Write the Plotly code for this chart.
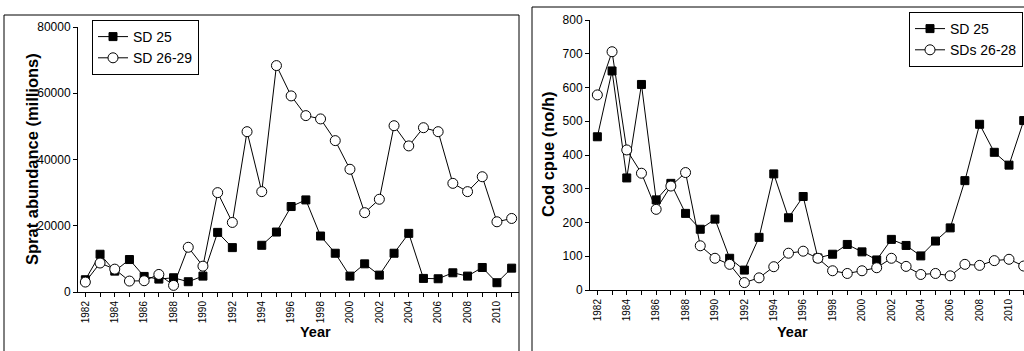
import plotly.graph_objects as go

years = list(range(1982, 2012))

sprat_sd25 = [3700, 11400, 6300, 9800, 4700, 3900, 4300, 3100, 4800, 18000,
              13400, None, 14100, 18100, 25800, 27800, 16900, 11700, 4800, 8500,
              5100, 11700, 17700, 4100, 4000, 5800, 4800, 7400, 2800, 7200]
sprat_sd2629 = [3000, 8750, 6900, 3300, 3400, 5300, 2000, 13500, 7800, 30000,
                21000, 48400, 30300, 68350, 59200, 53250, 52250, 45700, 37050, 23950,
                28000, 50200, 44100, 49600, 48400, 32800, 30300, 34800, 21200, 22200]

cod_sd25 = [454, 649, 332, 609, 267, 316, 227, 180, 210, 94,
            59, 156, 344, 214, 277, 95, 106, 135, 113, 89,
            150, 132, 101, 145, 184, 324, 491, 408, 370, 502]
cod_sd2628 = [578, 706, 415, 346, 239, 308, 348, 131, 94, 76,
              22, 36, 69, 109, 115, 94, 57, 49, 57, 66,
              94, 70, 46, 49, 42, 76, 73, 87, 91, 71]

tick_years = years
tick_text = [str(y) if y % 2 == 0 else "" for y in years]

W, H = 1024, 351
FONT = "Liberation Sans, Arial, sans-serif"

def px_x(p):
    return p / W

def px_y(p):
    return 1 - p / H

fig = go.Figure()

sq = dict(symbol="square", size=8, color="black", line=dict(color="black", width=1))
circ = dict(symbol="circle", size=10, color="white", line=dict(color="black", width=1))
ln = dict(color="black", width=1)

fig.add_trace(go.Scatter(x=years, y=sprat_sd25, name="SD 25", mode="lines+markers",
                         marker=sq, line=ln, xaxis="x", yaxis="y", legend="legend",
                         cliponaxis=False))
fig.add_trace(go.Scatter(x=years, y=sprat_sd2629, name="SD 26-29", mode="lines+markers",
                         marker=circ, line=ln, xaxis="x", yaxis="y", legend="legend",
                         cliponaxis=False))
fig.add_trace(go.Scatter(x=years, y=cod_sd25, name="SD 25", mode="lines+markers",
                         marker=sq, line=ln, xaxis="x2", yaxis="y2", legend="legend2",
                         cliponaxis=False))
fig.add_trace(go.Scatter(x=years, y=cod_sd2628, name="SDs 26-28", mode="lines+markers",
                         marker=circ, line=ln, xaxis="x2", yaxis="y2", legend="legend2",
                         cliponaxis=False))

xcommon = dict(showline=True, linecolor="black", linewidth=1, ticks="outside", ticklen=4,
               tickcolor="black", tickmode="array", tickvals=tick_years, ticktext=tick_text,
               tickangle=-90, tickfont=dict(family=FONT, size=10, color="black"),
               showgrid=False, zeroline=False, automargin=False)
ycommon = dict(showline=True, linecolor="black", linewidth=1, ticks="outside", ticklen=4,
               tickcolor="black", tickfont=dict(family=FONT, size=12, color="black"),
               tickformat="d", showgrid=False, zeroline=False, automargin=False)

fig.update_layout(
    width=W, height=H,
    margin=dict(l=0, r=0, t=0, b=0, autoexpand=False),
    paper_bgcolor="white", plot_bgcolor="white",
    font=dict(family=FONT, color="black"),
    xaxis=dict(domain=[px_x(78), px_x(519)], range=[1981.5, 2011.5], anchor="y", **xcommon),
    yaxis=dict(domain=[px_y(292), px_y(27)], range=[0, 80000], dtick=20000, anchor="x", **ycommon),
    xaxis2=dict(domain=[px_x(590), 1.0], range=[1981.5, 2011.02], anchor="y2", **xcommon),
    yaxis2=dict(domain=[px_y(290), px_y(20)], range=[0, 800], dtick=100, anchor="x2", **ycommon),
    legend=dict(x=px_x(92), y=px_y(20), xanchor="left", yanchor="top",
                bordercolor="black", borderwidth=1, bgcolor="white",
                font=dict(family=FONT, size=14, color="black")),
    legend2=dict(x=px_x(1023), y=px_y(12), xanchor="right", yanchor="top",
                 bordercolor="black", borderwidth=1, bgcolor="white",
                 font=dict(family=FONT, size=14, color="black")),
    showlegend=True,
)

fig.add_shape(type="rect", xref="paper", yref="paper",
              x0=px_x(4), x1=px_x(519), y0=-0.2, y1=px_y(15),
              line=dict(color="black", width=1), fillcolor="rgba(0,0,0,0)", layer="below")
fig.add_shape(type="rect", xref="paper", yref="paper",
              x0=px_x(532), x1=1.2, y0=-0.2, y1=px_y(7),
              line=dict(color="black", width=1), fillcolor="rgba(0,0,0,0)", layer="below")

ann_font = dict(family=FONT, size=16.5, color="black")
fig.add_annotation(text="<b>Sprat abundance (millions)</b>", xref="paper", yref="paper",
                   x=px_x(21), y=px_y(159), textangle=-90, showarrow=False, font=ann_font)
fig.add_annotation(text="<b>Cod cpue (no/h)</b>", xref="paper", yref="paper",
                   x=px_x(548), y=px_y(154), textangle=-90, showarrow=False, font=ann_font)
fig.add_annotation(text="<b>Year</b>", xref="paper", yref="paper",
                   x=px_x(298), y=px_y(342), showarrow=False,
                   font=dict(family=FONT, size=14.5, color="black"))
fig.add_annotation(text="<b>Year</b>", xref="paper", yref="paper",
                   x=px_x(810), y=px_y(342), showarrow=False,
                   font=dict(family=FONT, size=14.5, color="black"))

fig.write_html("out.html", config={"displayModeBar": False},
               post_script="document.body.style.margin='0';document.body.style.overflow='hidden';")
